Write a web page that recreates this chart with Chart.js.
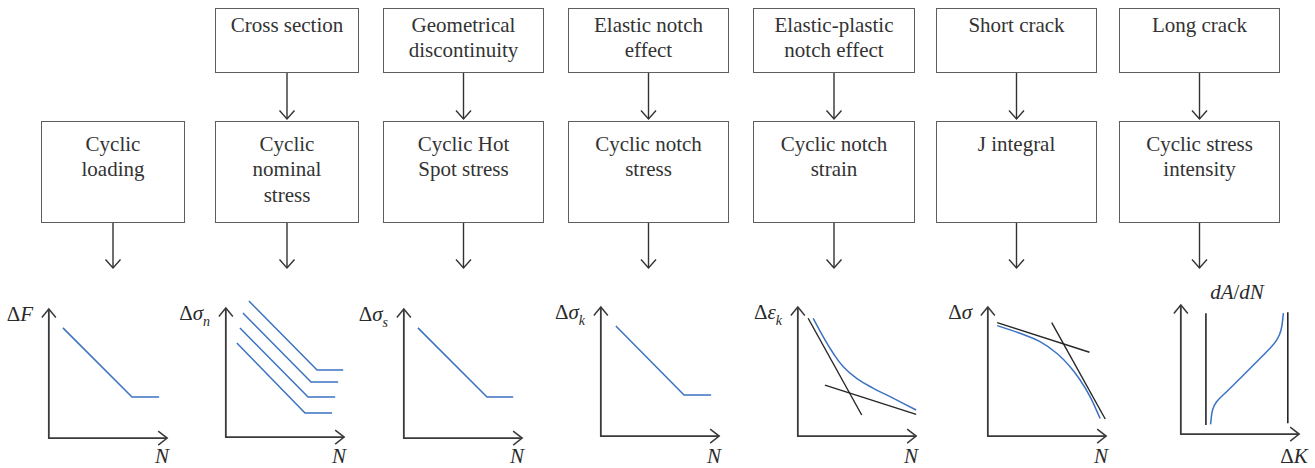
<!DOCTYPE html>
<html>
<head>
<meta charset="utf-8">
<script src="https://cdn.jsdelivr.net/npm/chart.js@4.4.1/dist/chart.umd.min.js"></script>
<style>
  html, body { margin: 0; padding: 0; background: #fff; }
  #stage { position: relative; width: 1315px; height: 468px; overflow: hidden;
           font-family: 'Liberation Serif', 'Tinos', 'Times New Roman', 'DejaVu Serif', 'Noto Serif', 'FreeSerif', serif;
           color: #333; }
  .box { position: absolute; box-sizing: border-box; border: 1.3px solid #5e5e5e;
         text-align: center; font-size: 21px; line-height: 25.5px; }
  .lbl { position: absolute; font-size: 21px; line-height: 24px; white-space: nowrap; color: #2a2a2a; }
  .lbl i { font-style: italic; }
  .lbl .sub { font-size: 14px; font-style: italic; position: relative; top: 6px; }
  canvas { position: absolute; }
  svg { position: absolute; left: 0; top: 0; }
</style>
</head>
<body>
<div id="stage">
  <svg id="arrows" width="1315" height="468"></svg>
</div>
<script>
// ---- text ----
const influenceLabels = ['', 'Cross section', 'Geometrical<br>discontinuity', 'Elastic notch<br>effect',
                         'Elastic-plastic<br>notch effect', 'Short crack', 'Long crack'];
const parameterLabels = ['Cyclic<br>loading', 'Cyclic<br>nominal<br>stress', 'Cyclic Hot<br>Spot stress',
                         'Cyclic notch<br>stress', 'Cyclic notch<br>strain', 'J integral',
                         'Cyclic stress<br>intensity'];
const yAxisLabels = ['&Delta;<i>F</i>', '&Delta;<i>&sigma;</i><span class="sub">n</span>',
                     '&Delta;<i>&sigma;</i><span class="sub">s</span>',
                     '&Delta;<i>&sigma;</i><span class="sub">k</span>',
                     '&Delta;<i>&epsilon;</i><span class="sub">k</span>', '&Delta;<i>&sigma;</i>',
                     '<i>dA</i>/<i>dN</i>'];
const xAxisLabels = ['<i>N</i>', '<i>N</i>', '<i>N</i>', '<i>N</i>', '<i>N</i>', '<i>N</i>', '&Delta;<i>K</i>'];

// ---- curves (axis units: 0..10 on both axes) ----
const loadingSN = [[1.19, 8.53], [7.03, 3.18], [9.32, 3.18]];
const nominalSN1 = [[1.95, 10.54], [7.71, 5.19], [9.92, 5.19]];
const nominalSN2 = [[1.44, 9.61], [7.20, 4.26], [9.49, 4.26]];
const nominalSN3 = [[1.19, 8.45], [6.95, 3.10], [9.24, 3.10]];
const nominalSN4 = [[0.93, 7.29], [6.69, 1.86], [8.98, 1.86]];
const hotSpotSN = [[1.19, 8.53], [7.03, 3.18], [9.24, 3.18]];
const notchStressSN = [[1.27, 8.53], [7.03, 3.18], [9.32, 3.18]];
const notchStrainCurve = [[1.30, 9.12], [2.14, 7.70], [2.99, 6.41], [3.84, 5.37], [4.97, 4.47],
                          [6.38, 3.70], [7.80, 3.05], [10.0, 2.02]];
const strainElasticLine = [[0.87, 9.12], [5.40, 1.63]];
const strainPlasticLine = [[2.29, 3.95], [10.0, 1.68]];
const shortCrackCurve = [[0.79, 8.55], [2.71, 7.96], [4.41, 7.31], [5.82, 6.41], [6.95, 5.37],
                         [7.80, 4.34], [8.64, 3.05], [9.49, 1.37]];
const shortCrackLineA = [[0.79, 8.78], [8.59, 6.49]];
const shortCrackLineB = [[5.40, 8.78], [9.92, 1.32]];
const crackGrowthCurve = [[2.51, 0.75], [2.68, 1.86], [3.02, 2.50], [3.87, 3.28], [7.54, 6.64],
                          [8.11, 7.29], [8.47, 8.06], [8.67, 9.36]];
const thresholdLine = [[2.12, 0.70], [2.12, 9.36]];
const toughnessLine = [[9.04, 0.83], [9.04, 9.43]];

// ---- layout ----
const columnEdges = [[41, 185], [215, 359], [383, 544], [568, 729], [753, 915], [936, 1097], [1119, 1280]];
const plotOrigins = [[49, 438], [226, 437], [404, 438], [601, 436], [798, 436], [988, 436], [1181, 434]];

const BLUE = '#3b73c2';
const INK = '#262626';
const stage = document.getElementById('stage');
const svg = document.getElementById('arrows');

function addBox(left, right, top, height, html, pad) {
    const d = document.createElement('div');
    d.className = 'box';
    d.style.left = left + 'px';
    d.style.top = top + 'px';
    d.style.width = (right - left) + 'px';
    d.style.height = height + 'px';
    d.style.paddingTop = pad + 'px';
    d.innerHTML = html;
    stage.appendChild(d);
}

function addArrow(x, y1, y2) {
    const ns = 'http://www.w3.org/2000/svg';
    const l = document.createElementNS(ns, 'line');
    l.setAttribute('x1', x); l.setAttribute('x2', x);
    l.setAttribute('y1', y1); l.setAttribute('y2', y2);
    const p = document.createElementNS(ns, 'polyline');
    p.setAttribute('points', (x - 7.5) + ',' + (y2 - 8.5) + ' ' + x + ',' + y2 + ' ' + (x + 7.5) + ',' + (y2 - 8.5));
    [l, p].forEach(el => {
        el.setAttribute('stroke', '#333');
        el.setAttribute('stroke-width', '1.4');
        el.setAttribute('fill', 'none');
        svg.appendChild(el);
    });
}

function addLabel(html, left, top, width, align) {
    const d = document.createElement('div');
    d.className = 'lbl';
    d.style.left = left + 'px';
    d.style.top = top + 'px';
    d.style.width = width + 'px';
    d.style.textAlign = align;
    d.innerHTML = html;
    stage.appendChild(d);
}

// axes with open arrowheads, drawn from the chart's own scales
const arrowAxes = {
    id: 'arrowAxes',
    beforeDatasetsDraw(chart) {
        const { ctx, scales: { x, y } } = chart;
        const x0 = x.getPixelForValue(0), y0 = y.getPixelForValue(0);
        const xt = x.getPixelForValue(10), yt = y.getPixelForValue(10);
        ctx.save();
        ctx.strokeStyle = '#3a3a3a';
        ctx.lineWidth = 1.8;
        ctx.lineJoin = 'miter';
        ctx.beginPath();
        ctx.moveTo(x0, yt); ctx.lineTo(x0, y0); ctx.lineTo(xt, y0);
        ctx.stroke();
        ctx.lineWidth = 1.5;
        ctx.beginPath();
        ctx.moveTo(x0 - 7, yt + 8.5); ctx.lineTo(x0, yt); ctx.lineTo(x0 + 7, yt + 8.5);
        ctx.moveTo(xt - 9, y0 - 7); ctx.lineTo(xt, y0); ctx.lineTo(xt - 9, y0 + 7);
        ctx.stroke();
        ctx.restore();
    }
};

function series(points, color, width, tension) {
    return {
        data: points.map(([x, y]) => ({ x, y })),
        showLine: true,
        pointRadius: 0,
        borderColor: color,
        borderWidth: width,
        tension: tension || 0,
        clip: false
    };
}

function makePlot(i, datasets) {
    const [ox, oy] = plotOrigins[i];
    const c = document.createElement('canvas');
    c.width = 142; c.height = 155;
    c.style.left = (ox - 12) + 'px';
    c.style.top = (oy - 142) + 'px';
    stage.appendChild(c);
    new Chart(c, {
        type: 'scatter',
        data: { datasets },
        options: {
            responsive: false,
            animation: false,
            events: [],
            layout: { padding: 0 },
            plugins: { legend: { display: false }, tooltip: { enabled: false } },
            scales: {
                x: { type: 'linear', display: false, min: -1, max: 11 },
                y: { type: 'linear', display: false, min: -1, max: 11 }
            }
        },
        plugins: [arrowAxes]
    });
}

// boxes and flow arrows
columnEdges.forEach(([l, r], i) => {
    const cx = (l + r) / 2;
    if (influenceLabels[i]) {
        addBox(l, r, 8, 65, influenceLabels[i], 3.9);
        addArrow(cx, 73, 119);
    }
    addBox(l, r, 121, 102, parameterLabels[i], 9.9);
    addArrow(cx, 223, 268);
});

// axis labels
plotOrigins.forEach(([ox, oy], i) => {
    if (i === 6) {
        addLabel(yAxisLabels[i], ox + 56 - 60, 299 - 19, 120, 'center');
    } else {
        addLabel(yAxisLabels[i], ox - 16 - 100, oy - 117 - 19, 100, 'right');
    }
    addLabel(xAxisLabels[i], ox + 113 - 40, 463 - 19, 80, 'center');
});

if (typeof Chart !== 'undefined') {
    makePlot(0, [series(loadingSN, BLUE, 1.5)]);
    makePlot(1, [series(nominalSN1, BLUE, 1.5), series(nominalSN2, BLUE, 1.5),
                 series(nominalSN3, BLUE, 1.5), series(nominalSN4, BLUE, 1.5)]);
    makePlot(2, [series(hotSpotSN, BLUE, 1.5)]);
    makePlot(3, [series(notchStressSN, BLUE, 1.5)]);
    makePlot(4, [series(strainElasticLine, INK, 1.4), series(strainPlasticLine, INK, 1.4),
                 series(notchStrainCurve, BLUE, 1.5, 0.4)]);
    makePlot(5, [series(shortCrackLineA, INK, 1.4), series(shortCrackLineB, INK, 1.4),
                 series(shortCrackCurve, BLUE, 1.5, 0.4)]);
    makePlot(6, [series(thresholdLine, INK, 1.6), series(toughnessLine, INK, 1.6),
                 series(crackGrowthCurve, BLUE, 1.5, 0.4)]);
}
</script>
</body>
</html>
